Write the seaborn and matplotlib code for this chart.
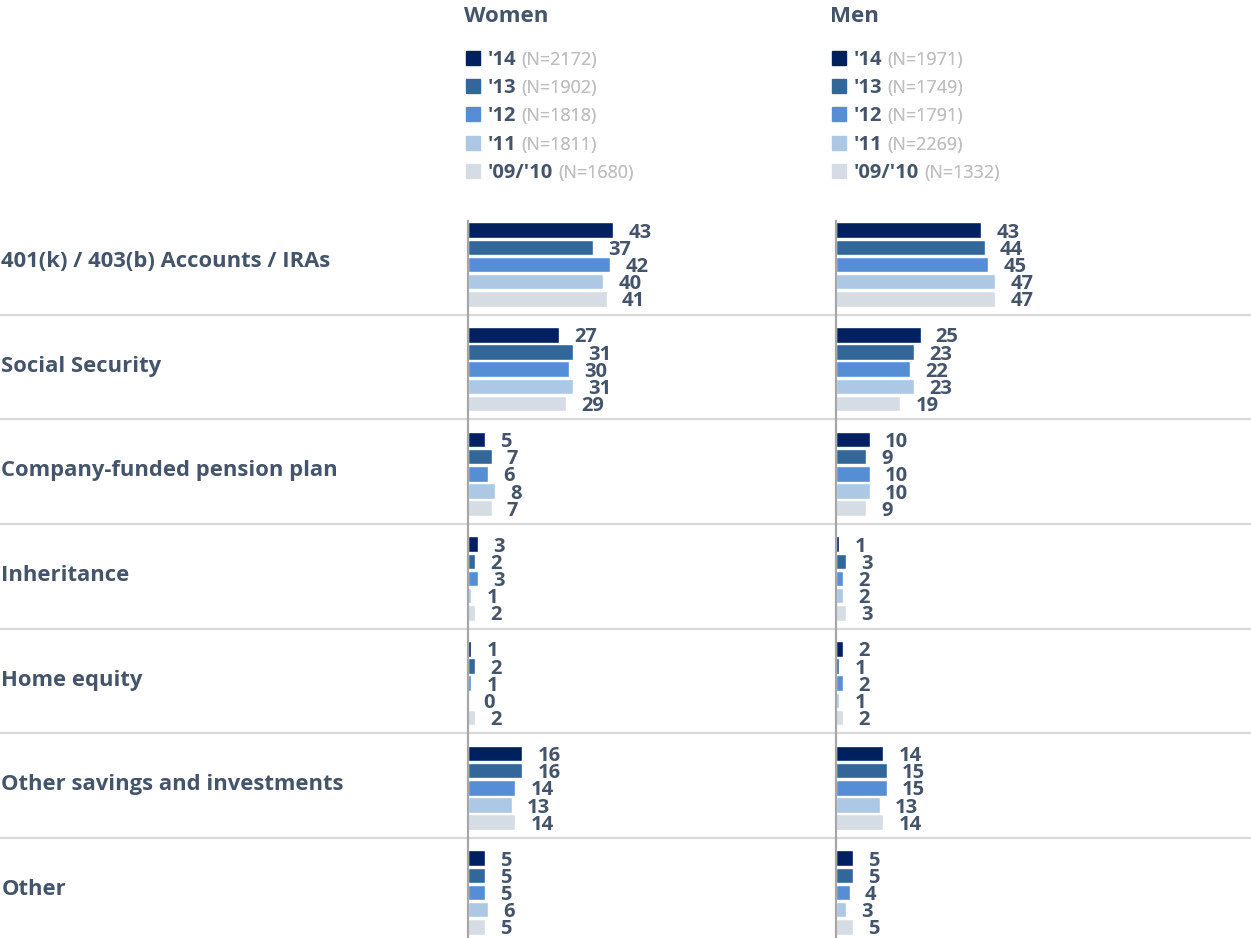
import matplotlib
matplotlib.use("Agg")
import matplotlib.pyplot as plt
from matplotlib.patches import Rectangle
import pandas as pd
import seaborn as sns

# ---- data -------------------------------------------------------------
categories = [
    "401(k) / 403(b) Accounts / IRAs",
    "Social Security",
    "Company-funded pension plan",
    "Inheritance",
    "Home equity",
    "Other savings and investments",
    "Other",
]
years = ["'14", "'13", "'12", "'11", "'09/'10"]

women_n = [2172, 1902, 1818, 1811, 1680]
men_n = [1971, 1749, 1791, 2269, 1332]

women_14 = [43, 27, 5, 3, 1, 16, 5]
women_13 = [37, 31, 7, 2, 2, 16, 5]
women_12 = [42, 30, 6, 3, 1, 14, 5]
women_11 = [40, 31, 8, 1, 0, 13, 6]
women_0910 = [41, 29, 7, 2, 2, 14, 5]

men_14 = [43, 25, 10, 1, 2, 14, 5]
men_13 = [44, 23, 9, 3, 1, 15, 5]
men_12 = [45, 22, 10, 2, 2, 15, 4]
men_11 = [47, 23, 10, 2, 1, 13, 3]
men_0910 = [47, 19, 9, 3, 2, 14, 5]

colors = ["#002060", "#336699", "#558ED5", "#ADC8E4", "#D6DCE4"]
TEXT = "#44546A"
N_GREY = "#BFBFBF"


def long_frame(series):
    rows = []
    for yr, vals in zip(years, series):
        for cat, v in zip(categories, vals):
            rows.append({"category": cat, "year": yr, "value": v})
    return pd.DataFrame(rows)


women_df = long_frame([women_14, women_13, women_12, women_11, women_0910])
men_df = long_frame([men_14, men_13, men_12, men_11, men_0910])

# ---- styling ----------------------------------------------------------
sns.set_theme(style="white")
plt.rcParams["font.family"] = ["Open Sans", "DejaVu Sans"]

W, H = 1251, 938
fig = plt.figure(figsize=(W / 100, H / 100), dpi=100)


def fx(px):
    return px / W


def fy(py):
    return 1 - py / H


ROW_PX = 104.67       # height of one category band
ROW0_PX = 264.5       # centre of the first band
AX_TOP_PX = 221       # top of the bar area
y_top = -(ROW0_PX - AX_TOP_PX) / ROW_PX
y_bot = (H - ROW0_PX) / ROW_PX
ax_h = 1 - AX_TOP_PX / H

# background layer: category names and band separators across the full width
bg = fig.add_axes([0, 0, 1, ax_h], zorder=0)
bg.set_xlim(0, 1)
bg.set_ylim(y_bot, y_top)
bg.axis("off")
for i in range(len(categories) - 1):
    bg.axhline(i + 0.48, color="#D9D9D9", lw=1.6, zorder=0)
for i, cat in enumerate(categories):
    bg.text(0.001, i - 0.03, cat, ha="left", va="center", fontsize=15.8,
            fontweight="bold", color=TEXT)

PX_PER_UNIT = 3.38
AX_W_PX = 330

panels = [
    ("Women", 468, women_df, women_n, 466),
    ("Men", 836, men_df, men_n, 832),
]

for title, left_px, df, ns, leg_px in panels:
    ax = fig.add_axes([fx(left_px), 0, fx(AX_W_PX), ax_h], zorder=2)
    ax.patch.set_alpha(0)
    sns.barplot(data=df, x="value", y="category", hue="year",
                order=categories, hue_order=years, palette=colors,
                saturation=1, orient="h", width=0.82, gap=0.1,
                errorbar=None, legend=False, ax=ax)
    ax.set_xlim(0, AX_W_PX / PX_PER_UNIT)
    ax.set_ylim(y_bot, y_top)
    ax.set_xticks([])
    ax.set_yticks([])
    ax.set_xlabel("")
    ax.set_ylabel("")
    for side in ["top", "right", "bottom"]:
        ax.spines[side].set_visible(False)
    ax.spines["left"].set_color("#A6A6A6")
    ax.spines["left"].set_linewidth(1.6)
    ax.spines["left"].set_zorder(5)

    for cont in ax.containers:
        labels = ax.bar_label(cont, fmt="%d", padding=11, fontsize=14.5,
                              fontweight="bold", color=TEXT)
        for lab in labels:
            lab.set_va("center_baseline")

    # panel heading and year key
    fig.text(fx(leg_px - 2), fy(16), title, ha="left", va="center",
             fontsize=16, fontweight="bold", color=TEXT)
    for i, (yr, n, col) in enumerate(zip(years, ns, colors)):
        yc = 58 + i * 28.2
        fig.add_artist(Rectangle((fx(leg_px), fy(yc + 7)), fx(14), 14 / H,
                                 transform=fig.transFigure, color=col))
        base = H - (yc + 7)
        t = fig.text(fx(leg_px + 22), base / H, yr, ha="left",
                     va="baseline", fontsize=14.5, fontweight="bold",
                     color=TEXT)
        fig.add_artist(plt.annotate(
            f"(N={n})", xy=(1, base), xycoords=(t, "figure pixels"),
            xytext=(5, 0), textcoords="offset pixels", ha="left",
            va="baseline", fontsize=13, color=N_GREY,
            annotation_clip=False))

fig.savefig("out.png", dpi=100)
